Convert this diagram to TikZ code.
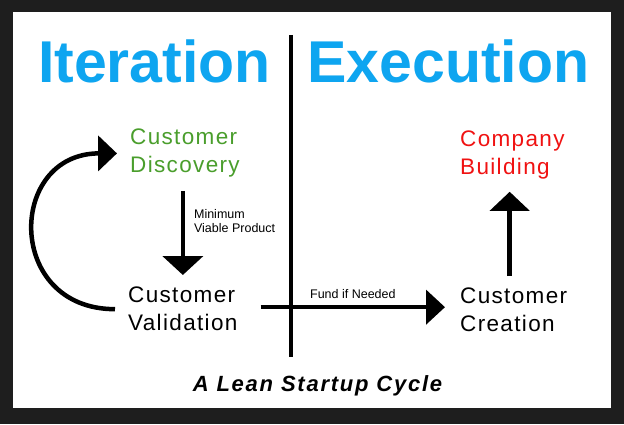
\documentclass[tikz,border=0pt]{standalone}
\usepackage{fontspec}
\setmainfont{Liberation Sans}
\usetikzlibrary{positioning,arrows.meta}
\definecolor{framedark}{RGB}{30,30,30}
\definecolor{titleblue}{RGB}{14,165,240}
\definecolor{stagegreen}{RGB}{74,158,44}
\definecolor{stagered}{RGB}{240,18,18}

\tikzset{
  phasetitle/.style={font=\fontsize{59}{60}\selectfont\bfseries,text=titleblue,
                     inner sep=0pt,anchor=base},
  stagelabel/.style={font=\fontsize{22.5}{28}\selectfont\addfontfeatures{LetterSpace=6},
                     align=left,inner sep=0pt,anchor=north west},
  smalllabel/.style={font=\fontsize{12.5}{14}\selectfont,align=left,inner sep=0pt},
  bigarrow/.style={line width=4.5pt,-{Triangle[width=#1,length=19pt]}},
  bigarrow/.default=35pt
}

\begin{document}
\begin{tikzpicture}[x=1pt,y=1pt]
        % frame
        \fill[framedark] (0,0) rectangle (624,424);
        \fill[white] (13,16) rectangle (611,412);

        \node[phasetitle] (iter) at (154.5,341) {Iteration};
        \node[phasetitle] (exec) at (448.5,341) {Execution};
        \coordinate (divtop) at (291,389);
        \coordinate (divbot) at (291,67);
        \draw[line width=4pt] (divtop) -- (divbot);

        \node[stagelabel,text=stagegreen] (disc) at (130,295) {Customer\\Discovery};
        \node[stagelabel] (valid) at (128,137) {Customer\\Validation};
        \node[stagelabel,text=stagered] (build) at (460,293) {Company\\Building};
        \node[stagelabel] (create) at (460,136) {Customer\\Creation};

        \draw[bigarrow=40pt] ([yshift=-13pt]valid.north |- disc.south)
          -- ([yshift=12pt]valid.north)
          node[smalllabel,pos=0.36,right=9pt] (mvp) {Minimum\\Viable Product};
        \draw[bigarrow] ([xshift=-13pt]valid.west)
          .. controls +(-110,0) and +(-110,0) .. ([xshift=-13pt]disc.west);
        \draw[bigarrow=34pt] ([xshift=23pt,yshift=2pt]valid.east)
          -- ([xshift=-15pt,yshift=2pt]valid.east -| create.west)
          node[smalllabel,midway,above=6pt] (fund) {Fund if Needed};
        \draw[bigarrow=39pt] ([xshift=-4pt,yshift=12pt]create.north)
          -- ([xshift=-4pt,yshift=-12pt]create.north |- build.south);

        \node[font=\fontsize{22}{24}\selectfont\bfseries\itshape\addfontfeatures{LetterSpace=8},
              inner sep=0pt,anchor=base] (cycle) at (317.5,33) {A Lean Startup Cycle};
      \end{tikzpicture}
\end{document}
